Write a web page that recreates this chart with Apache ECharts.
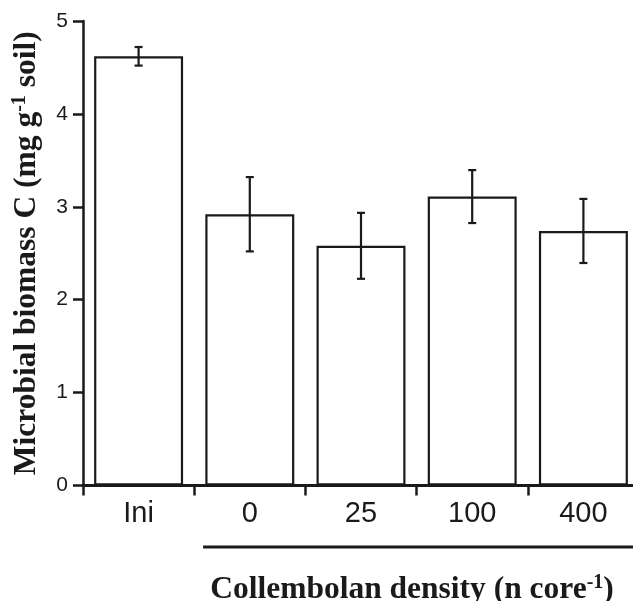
<!DOCTYPE html>
<html>
<head>
<meta charset="utf-8">
<script src="https://cdn.jsdelivr.net/npm/echarts@6/dist/echarts.min.js"></script>
<style>html,body{margin:0;padding:0;background:#fff;}#c{width:633px;height:601px;}</style>
</head>
<body>
<div id="c"></div>
<script>
var categories = ['Ini', '0', '25', '100', '400'];
var means = [4.62, 2.92, 2.58, 3.11, 2.74];
var errors = [0.10, 0.40, 0.355, 0.285, 0.345];
var yTicks = [0, 1, 2, 3, 4, 5];
var groupStart = '0', groupEnd = '400';

var ink = '#1a1a1a';
var serif = 'Liberation Serif, Times New Roman, serif';
var chart = echarts.init(document.getElementById('c'), null, {renderer: 'canvas'});

var errData = categories.map(function (c, i) { return [i, means[i] - errors[i], means[i] + errors[i]]; });

var option = {
  animation: false,
  backgroundColor: '#fff',
  grid: {left: 83, top: 21, right: -6, bottom: 115.5, containLabel: false, outerBoundsMode: 'none'},
  xAxis: {
    type: 'category',
    data: categories,
    boundaryGap: true,
    axisLine: {lineStyle: {color: ink, width: 3}},
    axisTick: {show: true, length: 10, lineStyle: {color: ink, width: 2.5}},
    axisLabel: {color: ink, fontSize: 29, fontFamily: 'Liberation Sans, Arial, sans-serif', margin: 14, interval: 0}
  },
  yAxis: {
    type: 'value',
    min: yTicks[0],
    max: yTicks[yTicks.length - 1],
    interval: 1,
    splitLine: {show: false},
    axisLine: {show: true, lineStyle: {color: ink, width: 2.5}},
    axisTick: {show: true, length: 10, lineStyle: {color: ink, width: 2.5}},
    axisLabel: {color: ink, fontSize: 21, fontFamily: 'Liberation Sans, Arial, sans-serif', margin: 15},
    name: '{b|Microbial biomass C (mg g}{s|-1}{b| soil)}',
    nameLocation: 'middle',
    nameRotate: 90,
    nameGap: 39,
    nameTextStyle: {
      rich: {
        b: {fontSize: 31.5, fontWeight: 'bold', fontFamily: serif, color: ink, lineHeight: 34},
        s: {fontSize: 20, fontWeight: 'bold', fontFamily: serif, color: ink, verticalAlign: 'top', lineHeight: 34}
      }
    }
  },
  series: [
    {
      type: 'bar',
      data: means,
      barWidth: '80%',
      itemStyle: {color: '#fff', borderColor: ink, borderWidth: 2.2},
      z: 2
    },
    {
      type: 'custom',
      data: errData,
      z: 3,
      renderItem: function (params, api) {
        var x = api.value(0);
        var lo = api.coord([x, api.value(1)]);
        var hi = api.coord([x, api.value(2)]);
        var hw = 4;
        var st = {stroke: ink, lineWidth: 2.2};
        return {
          type: 'group',
          children: [
            {type: 'line', shape: {x1: lo[0], y1: lo[1], x2: hi[0], y2: hi[1]}, style: st},
            {type: 'line', shape: {x1: lo[0] - hw, y1: lo[1], x2: lo[0] + hw, y2: lo[1]}, style: st},
            {type: 'line', shape: {x1: hi[0] - hw, y1: hi[1], x2: hi[0] + hw, y2: hi[1]}, style: st}
          ]
        };
      }
    }
  ]
};
chart.setOption(option);

// group bracket and x title positioned from the axis scale
var p0 = chart.convertToPixel({xAxisIndex: 0}, groupStart);
var p1 = chart.convertToPixel({xAxisIndex: 0}, groupEnd);
var band = p1 - chart.convertToPixel({xAxisIndex: 0}, categories[categories.indexOf(groupEnd) - 1]);
var yAxisPx = chart.convertToPixel({yAxisIndex: 0}, 0);
var lineX1 = p0 - band * 0.42;
var lineX2 = p1 + band * 0.5;
chart.setOption({
  graphic: [
    {type: 'line', shape: {x1: lineX1, y1: yAxisPx + 61.5, x2: lineX2, y2: yAxisPx + 61.5}, style: {stroke: ink, lineWidth: 3.2}},
    {type: 'text', x: 412, y: yAxisPx + 104.5, style: {
      text: '{b|Collembolan density (n core}{s|-1}{b|)}',
      align: 'center', verticalAlign: 'middle',
      rich: {
        b: {fontSize: 31.5, fontWeight: 'bold', fontFamily: serif, fill: ink, lineHeight: 34},
        s: {fontSize: 20, fontWeight: 'bold', fontFamily: serif, fill: ink, verticalAlign: 'top', lineHeight: 34}
      }
    }}
  ]
});
</script>
</body>
</html>
